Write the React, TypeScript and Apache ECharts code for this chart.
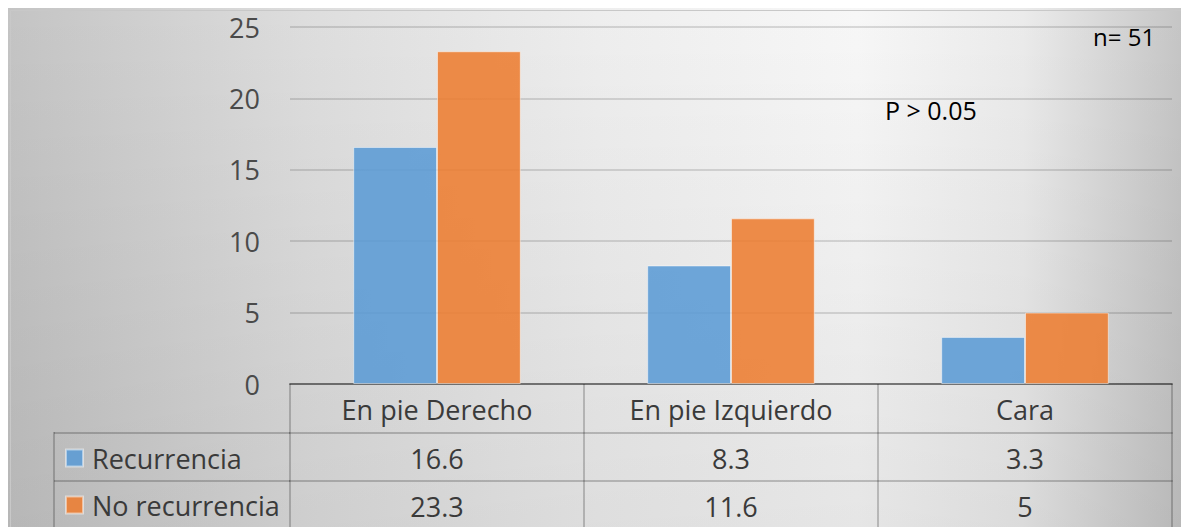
import React, { useEffect, useRef } from "react";
import * as echarts from "echarts";

const categories = ["En pie Derecho", "En pie Izquierdo", "Cara"];
const seriesNames = ["Recurrencia", "No recurrencia"];
const recurrencia = [16.6, 8.3, 3.3];
const noRecurrencia = [23.3, 11.6, 5];
const yMin = 0;
const yMax = 25;
const yStep = 5;
const noteP = "P > 0.05";
const noteN = "n= 51";

const FONT = "'Open Sans', 'Liberation Sans', sans-serif";
const TABLE_LINE = "rgba(0,0,0,0.2)";

export default function App() {
  const ref = useRef<HTMLDivElement>(null);
  useEffect(() => {
    if (!ref.current) return;
    const chart = echarts.init(ref.current, undefined, { renderer: "svg" });
    const rowAxis = (offset: number, tickLen: number, values: number[] | null, lineColor: string, lineWidth: number) => ({
      type: "category",
      data: categories,
      position: "bottom",
      offset,
      axisLine: { show: true, lineStyle: { color: lineColor, width: lineWidth } },
      axisTick: { show: true, length: tickLen, alignWithLabel: false, interval: 0, lineStyle: { color: TABLE_LINE, width: 2 } },
      axisLabel: {
        interval: 0,
        margin: 12,
        fontSize: 27,
        fontFamily: FONT,
        color: "#3a3a3a",
        formatter: values ? (_v: string, i: number) => String(values[i]) : undefined,
      },
      splitLine: { show: false },
    });
    const legendRow = (name: string, top: number) => ({
      orient: "vertical",
      left: 57,
      top,
      padding: 0,
      icon: "rect",
      itemWidth: 17,
      itemHeight: 17,
      data: [name],
      selectedMode: false,
      textStyle: { fontSize: 27, lineHeight: 30, fontFamily: FONT, color: "#3a3a3a", padding: [0, 0, 0, 4] },
    });
    chart.setOption({
      animation: false,
      backgroundColor: {
        type: "linear",
        x: 0, y: 0, x2: 1, y2: 0,
        colorStops: [
          { offset: 0, color: "#c4c4c4" },
          { offset: 0.25, color: "#dddddd" },
          { offset: 0.5, color: "#eeeeee" },
          { offset: 0.72, color: "#f7f7f7" },
          { offset: 0.86, color: "#ebebeb" },
          { offset: 1, color: "#c4c4c4" },
        ],
      },
      grid: { left: 282, right: 16, top: 19, bottom: 143, containLabel: false },
      legend: [legendRow(seriesNames[0], 435), legendRow(seriesNames[1], 482)],
      xAxis: [
        rowAxis(0, 49, null, "rgba(0,0,0,0.42)", 2),
        rowAxis(49, 48, recurrencia, TABLE_LINE, 2),
        rowAxis(97, 48, noRecurrencia, TABLE_LINE, 2),
      ],
      yAxis: {
        type: "value",
        min: yMin,
        max: yMax,
        interval: yStep,
        axisLine: { show: false },
        axisTick: { show: false },
        axisLabel: { margin: 30, fontSize: 27, fontFamily: FONT, color: "#4a4a4a" },
        splitLine: { lineStyle: { color: "rgba(0,0,0,0.17)", width: 1.5 } },
      },
      series: [
        {
          name: seriesNames[0],
          type: "bar",
          data: recurrencia,
          barGap: "0%",
          barCategoryGap: "43%",
          itemStyle: { color: "#5b9bd5", opacity: 0.88, borderColor: "rgba(255,255,255,0.55)", borderWidth: 1 },
        },
        {
          name: seriesNames[1],
          type: "bar",
          data: noRecurrencia,
          barGap: "0%",
          barCategoryGap: "43%",
          itemStyle: { color: "#ed7d31", opacity: 0.88, borderColor: "rgba(255,255,255,0.55)", borderWidth: 1 },
        },
      ],
      graphic: [
        {
          type: "rect", left: 0, top: 0, z: -10, silent: true,
          shape: { width: 1180, height: 519 },
          style: {
            fill: {
              type: "linear", x: 0, y: 0, x2: 0, y2: 1,
              colorStops: [
                { offset: 0, color: "rgba(0,0,0,0)" },
                { offset: 1, color: "rgba(0,0,0,0.07)" },
              ],
            },
          },
        },
        { type: "rect", left: 0, top: 0, shape: { width: 1179, height: 530 }, style: { fill: "none", stroke: "#c8c8c8", lineWidth: 1 }, z: 0, silent: true },
        { type: "line", shape: { x1: 46, y1: 425, x2: 282, y2: 425 }, style: { stroke: TABLE_LINE, lineWidth: 2 }, silent: true },
        { type: "line", shape: { x1: 46, y1: 473, x2: 282, y2: 473 }, style: { stroke: TABLE_LINE, lineWidth: 2 }, silent: true },
        { type: "line", shape: { x1: 46, y1: 424, x2: 46, y2: 530 }, style: { stroke: TABLE_LINE, lineWidth: 2 }, silent: true },
        { type: "text", left: 877, top: 89, style: { text: noteP, fontSize: 25, fontFamily: FONT, fill: "#000000" }, silent: true },
        { type: "text", left: 1085, top: 16, style: { text: noteN, fontSize: 24, fontFamily: FONT, fill: "#000000" }, silent: true },
      ],
    });
    return () => chart.dispose();
  }, []);
  return <div ref={ref} style={{ width: 1180, height: 519 }} />;
}
